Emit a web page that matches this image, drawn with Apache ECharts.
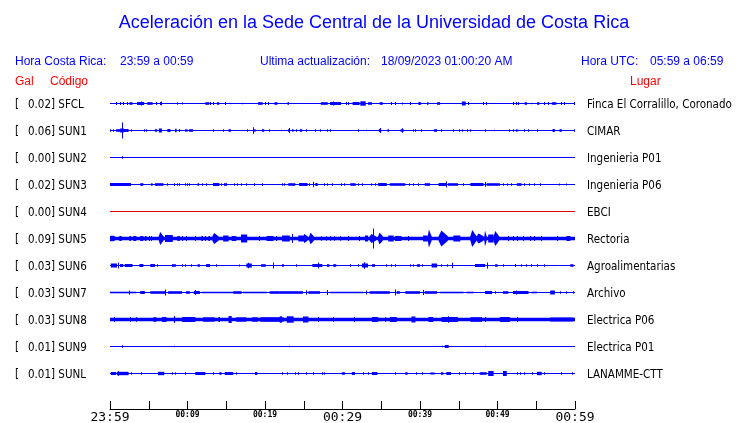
<!DOCTYPE html>
<html><head><meta charset="utf-8">
<script src="https://cdn.jsdelivr.net/npm/echarts@6/dist/echarts.min.js"></script>
<style>html,body{margin:0;padding:0;background:#fff}#c{width:740px;height:423px}</style>
</head><body><div id="c"></div><script>
// ---- data ----
const title = 'Aceleración en la Sede Central de la Universidad de Costa Rica';
const codes = ['SFCL','SUN1','SUN2','SUN3','SUN4','SUN5','SUN6','SUN7','SUN8','SUN9','SUNL'];
const gal = ['0.02','0.06','0.00','0.02','0.00','0.09','0.03','0.03','0.03','0.01','0.01'];
const places = ['Finca El Corralillo, Coronado','CIMAR','Ingenieria P01','Ingenieria P06','EBCI','Rectoria','Agroalimentarias','Archivo','Electrica P06','Electrica P01','LANAMME-CTT'];
const tickLabels = ['23:59','00:09','00:19','00:29','00:39','00:49','00:59'];
const majorLabels = ['23:59','00:29','00:59'];
// continuous noise band half-amplitude per station
const baseBand = [0,0,0,0,0,1.8,0,0,1.7,0,0];
// bursts: [startMin, endMin, halfAmp] or single spike [min, halfAmp]
const bSFCL = [[0.8,1.5],[1.4,1.5],[1.8,1.5],[2.3,1.5],[2.5,2.9,1.3],[3.5,4.4,1.5],[4.1,2],[4.8,5.5,1.3],[6.0,1.5],[6.5,1.5],[6.7,2],[8.7,1.3],[9.3,1],[12.3,12.8,1.3],[13.0,1.5],[13.3,1.5],[13.8,14.1,1.3],[14.9,1.5],[15.6,0.8],[17.1,0.8],[19.1,19.7,1.3],[20.1,1.5],[20.5,1.5],[21.2,21.6,1.3],[22.9,23.1,1.3],[27.2,28.1,1.3],[28.4,29.8,1.5],[28.8,2],[30.5,1.5],[30.8,1.5],[31.3,32.2,1.5],[32.3,33.0,2.2],[33.3,33.8,1.3],[34.8,35.2,1.3],[36.3,1.5],[36.9,1.5],[37.8,1],[38.8,1.5],[39.8,40.1,1.5],[40.9,41.1,1.3],[42.2,42.6,1.3],[45.4,45.9,2],[46.2,1.5],[48.2,1.5],[48.6,1.5],[52.0,1.5],[52.4,1.5],[52.7,1.5],[53.5,53.8,1.3],[54.4,0.8],[55.1,55.4,1.3],[56.1,1.5],[56.6,1.5],[57.0,57.6,1.3],[58.3,1.5],[58.6,1.5],[59.9,1.5]];
const bSUN1 = [[0.1,1.3],[0.4,1.3],[0.8,1.3],[0.9,1.3,1.3],[1.3,1.8,2],[1.6,8],[1.8,2.4,1.5],[2.8,1.3],[4.5,1.3],[4.7,1.3],[5.8,6.1,1.3],[6.3,6.7,2],[7.4,7.8,1.5],[8.4,8.6,1.8],[9.0,1.5],[9.7,10.0,1.3],[10.2,10.7,1.3],[13.3,1.3],[14.7,1.3],[15.3,15.6,1.3],[17.8,1.3],[18.5,3.3],[18.6,18.8,1.3],[19.6,19.9,1.3],[20.6,1.3],[22.1,0.8],[23.0,23.2,1.5],[23.1,2.5],[23.5,23.7,1.3],[24.0,1.3],[24.5,24.8,1.3],[25.4,1.3],[26.5,1.3],[27.1,1.3],[28.0,1.3],[28.5,1.3],[32.0,1.3],[33.1,0.7],[34.7,35.0,1.5],[34.9,2.5],[35.8,36.0,1.3],[37.5,37.9,1.3],[37.8,2.3],[39.1,1.3],[39.4,1.3],[40.2,1.3],[41.8,42.2,1.3],[42.7,42.8,1.3],[44.3,1.3],[45.1,1.3],[45.5,1.3],[46.1,1.3],[46.5,1.3],[48.5,1.3],[49.6,0.8],[51.6,1.3],[52.0,1.3],[52.4,52.6,1.3],[53.5,1.3],[54.0,1.3],[55.1,1.3],[57.1,57.4,1.5],[58.0,58.3,1.3],[59.9,1.3]];
const bSUN2 = [[1.6,1.3]];
const bSUN3 = [[0.0,2.7,1.5],[3.9,4.3,1.3],[5.3,5.5,1.3],[5.8,6.9,1.3],[7.4,1.3],[8.3,1.3],[8.7,1.3],[9.0,1.3],[9.7,1.3],[10.0,1.3],[10.3,1.3],[11.3,11.5,1.3],[11.9,1.3],[12.4,1.3],[13.3,14.1,1.5],[14.4,1.3],[14.7,15.1,1.3],[16.1,1.3],[16.5,1.3],[17.0,1.3],[17.6,1.3],[18.6,1.3],[19.7,1.3],[22.3,1.3],[22.5,1.3],[23.0,23.9,1.3],[24.4,25.5,1.5],[25.7,1.3],[26.2,2.8],[26.5,26.8,1.5],[27.7,1.3],[28.0,1.3],[28.7,1.3],[29.9,1.3],[30.3,1.3],[31.0,31.7,1.3],[32.0,1.3],[32.6,1.3],[33.8,1.3],[34.2,1.3],[34.6,35.7,1.5],[36.1,38.1,1.3],[38.7,1.3],[39.1,1.3],[39.8,1.3],[40.6,41.3,1.3],[42.4,43.4,1.5],[43.4,3],[43.6,44.9,1.3],[45.6,1.3],[46.5,48.2,1.5],[48.4,2.5],[48.6,50.3,1.3],[50.8,1.3],[51.3,1.3],[51.8,1.3],[52.5,53.1,1.3],[53.5,1.3],[54.1,1.3],[54.8,1.3],[55.5,1.3],[58.0,1],[58.9,1]];
const bSUN4 = [];
const bSUN5 = [[0.0,0.6,2.7],[1.2,1.5,2.5],[2.5,2.7,2.5],[3.0,3.4,2.5],[3.9,4.3,2.5],[4.5,4.7,2.5],[5.1,2.5],[5.4,2.5],[6.3,6.9,6.5],[7.1,8.1,3.5],[8.7,9.0,2.5],[9.4,2.5],[9.9,2.5],[11.0,2.5],[11.8,12.0,2.5],[12.3,2.5],[12.7,12.9,2.5],[13.2,14.0,5.5],[14.6,15.3,3],[15.7,16.3,2.5],[16.9,17.7,4],[19.3,2.5],[20.2,21.1,2.5],[21.5,2.5],[22.2,23.2,3],[23.5,4.5],[24.3,24.9,3],[24.9,25.5,4.5],[25.7,26.3,5.8],[27.3,2.3],[27.9,2.3],[28.5,2.3],[29.0,2.3],[29.7,2.3],[30.8,2.5],[32.2,2.5],[32.9,33.3,3],[33.5,34.3,4.5],[34.0,10],[34.6,35.2,6],[35.9,36.6,3],[36.8,37.6,2.5],[38.5,2.5],[40.4,41.0,3],[41.0,41.5,9],[42.4,43.6,8],[44.3,45.2,3],[46.5,47.3,8.5],[47.3,48.2,5],[48.3,48.6,8],[48.8,49.5,4],[49.5,50.2,7.5],[51.4,2.5],[52.0,2.5],[52.6,2.5],[53.3,2.5],[54.2,2.5],[54.8,2.5],[55.7,2.5],[57.8,2.5],[58.9,59.4,2.5]];
const bSUN6 = [[0.1,0.9,2],[1.1,3],[1.3,1.7,1.5],[1.9,2.9,1.5],[3.8,4.3,1.5],[5.2,5.8,1.5],[6.1,1.3],[8.0,1.3],[8.1,8.5,1.3],[9.3,1.3],[9.8,1.3],[10.5,1.3],[11.3,11.6,1.3],[12.4,12.9,1.5],[13.8,1.3],[16.7,1],[17.6,18.3,2],[17.9,2.8],[19.5,20.1,1.3],[21.1,3],[22.2,1.3],[22.4,1.3],[24.1,1.3],[26.1,27.4,1.5],[26.9,3],[28.0,28.3,1.3],[28.8,29.2,1.3],[31.0,1.3],[32.0,1.3],[32.5,33.3,2],[32.9,3.3],[33.8,34.2,1.3],[35.7,1.3],[36.3,1.3],[36.8,1.3],[38.8,1.3],[39.1,1.3],[39.6,40.0,1.3],[40.3,1.3],[41.5,42.2,2],[42.8,1.3],[43.5,1.3],[44.2,2.8],[47.1,48.4,1.5],[48.7,3],[49.7,50.0,1.3],[50.8,1.3],[52.3,1.5],[53.1,1.3],[53.8,1.3],[54.4,1.3],[55.1,1.3],[56.1,1.3],[59.4,59.8,1.3]];
const bSUN7 = [[0.0,3.4,0.8],[2.5,2],[3.9,4.5,1.5],[5.2,7.1,1.3],[7.2,3],[7.5,9.3,1.3],[9.8,10.3,1.3],[10.8,11.6,1.5],[11.0,2.5],[11.8,15.9,0.8],[15.9,17.0,1.3],[17.2,20.2,0.8],[20.6,21.9,1.3],[21.9,24.9,1.3],[25.3,2.2],[25.6,27.1,1.3],[28.0,2.5],[28.4,32.7,0.8],[33.1,2],[33.5,36.1,1.3],[36.9,3],[37.0,37.4,1.3],[38.1,40.0,1.3],[40.4,2.5],[40.6,42.2,1.3],[42.6,45.6,0.8],[46.0,46.9,0.8],[48.4,49.3,1.5],[49.7,1.3],[50.7,51.4,1.3],[52.0,54.0,1.5],[52.5,2],[54.4,55.1,0.8],[56.8,57.4,2],[58.1,1.3],[58.9,1.3],[59.8,1.3]];
const bSUN8 = [[0.6,2.5],[2.6,2.2],[3.4,2.2],[5.6,6.0,2.3],[6.7,7.3,2.5],[8.3,3.5],[9.3,11.0,2.5],[12.0,13.5,2.2],[14.0,14.2,2.5],[15.3,15.7,3.5],[16.3,17.6,2.2],[18.3,19.1,2.2],[19.4,22.4,2.3],[21.9,22.2,3.2],[22.8,23.7,3.2],[24.9,25.6,3],[26.9,2.5],[28.8,2.2],[31.6,2.5],[33.8,34.6,2.5],[35.5,2.2],[36.1,37.0,2.5],[38.9,39.4,3],[41.1,41.7,2.5],[42.8,44.9,2.5],[43.7,3.2],[46.5,48.0,2.3],[48.5,2.5],[50.3,51.6,2.5],[52.6,2.5],[56.8,59.8,2]];
const bSUN9 = [[1.6,1.3],[8.3,0.8],[23.1,0.7],[42.9,0.7],[43.2,43.7,1.5],[48.5,0.8]];
const bSUNL = [[0.1,0.8,1.5],[0.9,2.4,1.7],[1.1,2.3],[2.8,1.3],[4.1,1.3],[6.2,7.0,1.7],[8.0,1.3],[8.5,1.3],[9.7,1.3],[11.0,12.3,1.5],[13.4,1.3],[14.1,14.4,1.3],[14.8,15.9,1.5],[16.3,1.3],[18.7,19.0,1.5],[22.2,1.3],[22.9,1.3],[23.9,1.3],[24.3,1.3],[25.3,1.3],[26.2,1.3],[27.4,1.3],[27.7,1.3],[29.9,30.3,1.3],[31.2,31.6,1.5],[32.7,1.3],[33.3,1.3],[33.8,34.5,1.5],[36.9,1.3],[38.1,38.4,1.3],[39.6,1.3],[40.3,1.3],[41.3,41.9,1],[42.7,43.0,1.3],[43.4,44.0,1.5],[45.1,1.3],[45.9,1.3],[46.9,1.3],[47.7,48.6,1.3],[48.8,49.5,2.5],[50.7,51.2,2.5],[52.6,1.3],[53.0,1.3],[53.5,1.3],[54.5,1.3],[55.1,55.7,1.7],[56.1,1.3],[58.3,1.3],[59.7,1.3]];
const traces = [bSFCL,bSUN1,bSUN2,bSUN3,bSUN4,bSUN5,bSUN6,bSUN7,bSUN8,bSUN9,bSUNL];

// ---- styling ----
const BLUE = '#0000ff', RED = '#ff0000';
const traceColors = codes.map(c => c === 'SUN4' ? '#e00000' : BLUE);
const ROW = 27;
const GRID_TOP = 90, GRID_LEFT = 110, GRID_W = 465;
const HEAD_FONT = 'Liberation Sans, Arial, sans-serif';
const ST_FONT = '"DejaVu Sans Condensed", "DejaVu Sans", sans-serif';

const burstData = [];
traces.forEach((arr, i) => {
  if (baseBand[i] > 0) burstData.push([i, 0, 60, baseBand[i]]);
  arr.forEach(b => {
    if (b.length === 2) burstData.push([i, b[0], b[0], b[1]]);
    else burstData.push([i, b[0], b[1], b[2]]);
  });
});

function renderBurst(params, api) {
  const i = api.value(0), t0 = api.value(1), t1 = api.value(2), a = api.value(3);
  const yc = i * ROW;
  const p0 = api.coord([t0, yc]);
  const p1 = api.coord([t1, yc]);
  const top = api.coord([t0, yc - a])[1];
  const bot = api.coord([t0, yc + a])[1];
  const ym = p0[1];
  const fill = traceColors[i];
  let x0 = p0[0], x1 = p1[0];
  if (x1 - x0 < 1) {
    const m = Math.floor((x0 + x1) / 2);
    return { type: 'rect', shape: { x: m, y: top, width: 1, height: bot - top }, style: { fill: fill } };
  }
  if (a > 4) {
    const b = Math.min(2.2, a);
    const xp = x0 + 0.3 * (x1 - x0);
    return { type: 'polygon', shape: { points: [[x0, ym - b], [xp, top], [x1, ym - b], [x1, ym + b], [xp, bot], [x0, ym + b]] }, style: { fill: fill } };
  }
  return { type: 'rect', shape: { x: x0, y: top, width: x1 - x0, height: bot - top }, style: { fill: fill } };
}

const baselineSeries = codes.map((c, i) => ({
  type: 'line', xAxisIndex: 0, yAxisIndex: 0, symbol: 'none', silent: true,
  data: [[0, i * ROW], [60, i * ROW]],
  lineStyle: { width: 1, color: traceColors[i] }, animation: false
}));

const graphics = [];
function txt(text, x, y, font, fill, align) {
  graphics.push({ type: 'text', silent: true, style: { text: text, x: x, y: y, font: font, fill: fill, align: align || 'left', verticalAlign: 'middle', textAlign: align || 'left', textVerticalAlign: 'middle' } });
}
txt(title, 374, 23.5, '18px ' + HEAD_FONT, BLUE, 'center');
txt('Hora Costa Rica:', 15, 61.5, '12px ' + HEAD_FONT, BLUE);
txt(tickLabels[0] + ' a ' + tickLabels[6], 120, 61.5, '12px ' + HEAD_FONT, BLUE);
txt('Ultima actualización:', 260, 61.5, '12px ' + HEAD_FONT, BLUE);
txt('18/09/2023 01:00:20 AM', 381, 61.5, '12px ' + HEAD_FONT, BLUE);
txt('Hora UTC:', 581, 61.5, '12px ' + HEAD_FONT, BLUE);
txt('05:59 a 06:59', 650, 61.5, '12px ' + HEAD_FONT, BLUE);
txt('Gal', 15, 81.5, '12px ' + HEAD_FONT, RED);
txt('Código', 50, 81.5, '12px ' + HEAD_FONT, RED);
txt('Lugar', 630, 81.5, '12px ' + HEAD_FONT, RED);
codes.forEach((c, i) => {
  const y = GRID_TOP + 13.5 + i * ROW + 1.5;
  txt('[', 15, y, '11.5px ' + ST_FONT, '#000');
  txt(gal[i] + '] ' + c, 28, y, '11.5px ' + ST_FONT, '#000');
  txt(places[i], 587, y, '11.5px ' + ST_FONT, '#000');
});

const chart = echarts.init(document.getElementById('c'));
chart.setOption({
  animation: false,
  backgroundColor: '#fff',
  grid: [
    { left: GRID_LEFT, top: GRID_TOP, width: GRID_W, height: ROW * 11, outerBoundsMode: 'none', containLabel: false },
    { left: GRID_LEFT, top: 401, width: GRID_W, height: 8, outerBoundsMode: 'none', containLabel: false }
  ],
  xAxis: [
    { gridIndex: 0, type: 'value', min: 0, max: 60, show: false },
    { gridIndex: 1, type: 'value', min: 0, max: 60, interval: 5,
      axisLine: { show: true, lineStyle: { color: '#000', width: 1 } },
      axisTick: { show: true, inside: true, length: 8, lineStyle: { color: '#000', width: 1 } },
      splitLine: { show: false },
      axisLabel: {
        margin: 2, color: '#000', showMinLabel: true, showMaxLabel: true, hideOverlap: false,
        formatter: function (v) {
          if (v % 10 !== 0) return '';
          const s = tickLabels[v / 10];
          return majorLabels.indexOf(s) >= 0 ? '{b|' + s + '}' : '{s|' + s + '}';
        },
        rich: {
          b: { fontSize: 13, fontFamily: 'DejaVu Sans Mono', color: '#000' },
          s: { fontSize: 8, fontWeight: 'bold', fontFamily: 'DejaVu Sans Mono', color: '#000' }
        }
      }
    }
  ],
  yAxis: [
    { gridIndex: 0, type: 'value', min: -13.5, max: ROW * 11 - 13.5, inverse: true, show: false },
    { gridIndex: 1, type: 'value', min: 0, max: 1, show: false }
  ],
  series: baselineSeries.concat([{
    type: 'custom', xAxisIndex: 0, yAxisIndex: 0, silent: true,
    renderItem: renderBurst, data: burstData, clip: false,
    encode: { x: [1, 2], y: 3 }
  }]),
  graphic: graphics
});
</script></body></html>
